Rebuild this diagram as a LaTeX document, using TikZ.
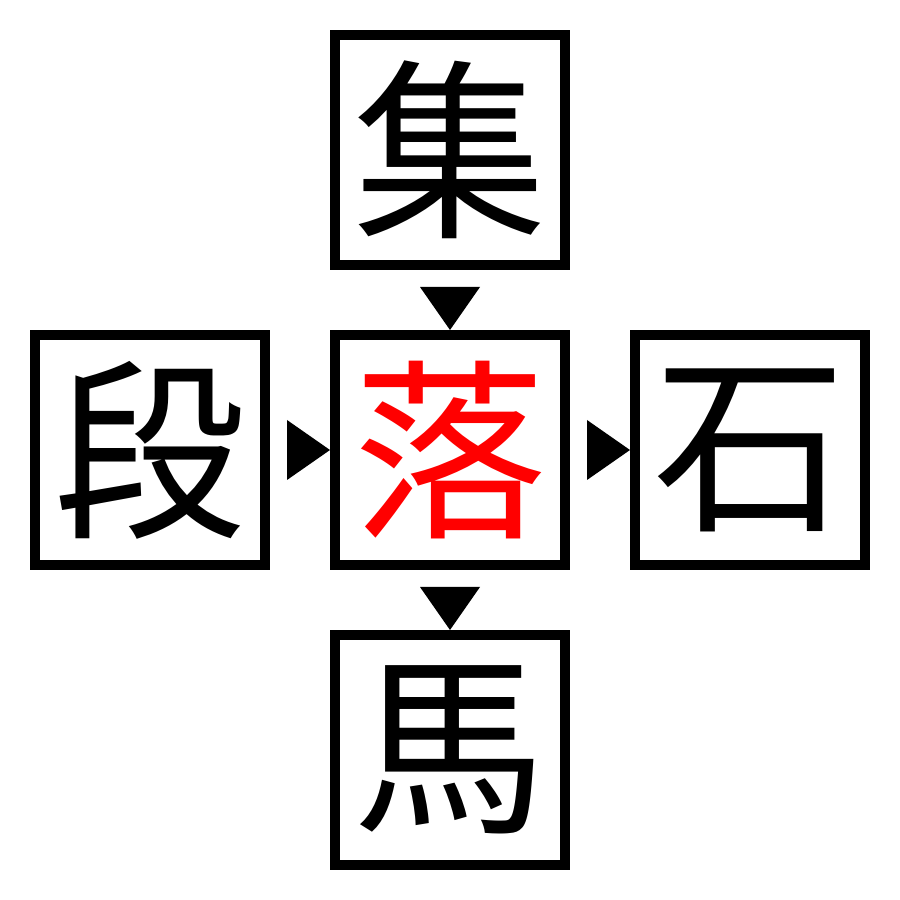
\documentclass[tikz,border=0pt]{standalone}
\usepackage{fontspec}
\newfontfamily\cjk{Noto Sans CJK JP}
\usetikzlibrary{calc}
\tikzset{zi/.style={draw,line width=0.1cm,minimum size=2.3cm,inner sep=0pt,font=\cjk\fontsize{55}{55}\selectfont}}
\begin{document}
\begin{tikzpicture}
\useasboundingbox(0,0)rectangle(9,9);
\node[zi](ji)at(4.5,7.5){集};
\node[zi,text=red](luo)at(4.5,4.5){落};
\node[zi](duan)at(1.5,4.5){段};
\node[zi](shi)at(7.5,4.5){石};
\node[zi](ma)at(4.5,1.5){馬};
%
\fill($(ji.south)+(-0.3,-0.17)$)--++(0.6,0)--++(-0.3,-0.43)--cycle;
\fill($(luo.south)+(-0.3,-0.17)$)--++(0.6,0)--++(-0.3,-0.43)--cycle;
\fill($(duan.east)+(0.17,0.3)$)--++(0,-0.6)--++(0.43,0.3)--cycle;
\fill($(luo.east)+(0.17,0.3)$)--++(0,-0.6)--++(0.43,0.3)--cycle;
\end{tikzpicture}
\end{document}
